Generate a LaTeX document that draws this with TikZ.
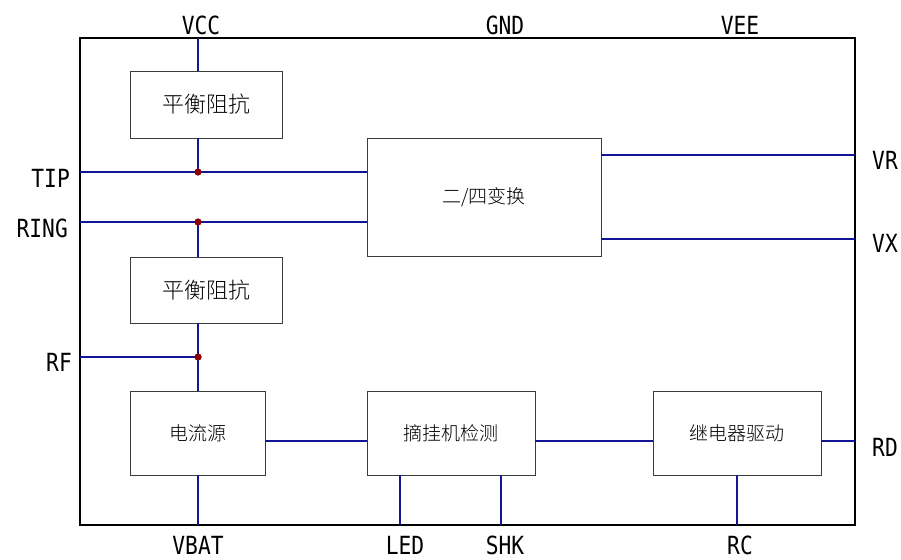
\documentclass[tikz,border=0pt]{standalone}
\usepackage{fontspec}
\newfontfamily\cjk{Noto Sans CJK SC Light}
\newfontfamily\lab[FakeStretch=0.85]{DejaVu Sans Mono}
\definecolor{wire}{RGB}{20,20,150}
\definecolor{dotc}{RGB}{140,0,0}
\definecolor{boxc}{RGB}{60,60,60}
\begin{document}
\begin{tikzpicture}[x=1pt,y=-1pt,
  blk/.style={draw=boxc,line width=0.8pt,fill=white,font=\cjk\fontsize{19}{19}\selectfont,inner sep=0pt},
  wireline/.style={draw=wire,line width=1.4pt},
  lbl/.style={font=\lab\fontsize{25}{25}\selectfont,inner sep=0pt},
  jdot/.style={circle,fill=dotc,inner sep=0pt,minimum size=7pt}]
\useasboundingbox (0,0) rectangle (901,559);
% frame corners
\coordinate (FTL) at (80,38);
\coordinate (FBR) at (855,525);
% blocks
\node[blk,minimum width=152pt,minimum height=67pt,font=\cjk\fontsize{22}{22}\selectfont] (bz1) at (206,104.5) {平衡阻抗};
\node[blk,minimum width=152pt,minimum height=66pt,font=\cjk\fontsize{22}{22}\selectfont] (bz2) at (206,290) {平衡阻抗};
\node[blk,minimum width=234pt,minimum height=118pt] (conv) at (484,197) {二/四变换};
\node[blk,minimum width=135pt,minimum height=84pt] (cs) at (197.5,433) {电流源};
\node[blk,minimum width=168pt,minimum height=84pt] (hook) at (451,433) {摘挂机检测};
\node[blk,minimum width=168pt,minimum height=84pt] (relay) at (737,433) {继电器驱动};
% frame
\draw[line width=2pt] (FTL) rectangle (FBR);
% junctions and pins
\coordinate (vccp) at (198,38);
\coordinate (tipL) at (80,172);
\coordinate (ringL) at (80,222);
\coordinate (rfL) at (80,357);
\coordinate (vrR) at (855,155);
\coordinate (vxR) at (855,239);
\coordinate (rdR) at (855,441);
\coordinate (vbatp) at (198,525);
\coordinate (ledp) at (400,525);
\coordinate (shkp) at (501,525);
\coordinate (rcp) at (737,525);
\node[jdot] (jt) at (198,172) {};
\node[jdot] (jr) at (198,222) {};
\node[jdot] (jf) at (198,357) {};
% wires
\draw[wireline] (vccp) -- (198,71);
\draw[wireline] (198,138) -- (jt.center);
\draw[wireline] (tipL) -- (jt.center) -- (tipL -| conv.west);
\draw[wireline] (ringL) -- (jr.center) -- (ringL -| conv.west);
\draw[wireline] (jr.center) -- (198,257);
\draw[wireline] (198,323) -- (jf.center) -- (198,391);
\draw[wireline] (rfL) -- (jf.center);
\draw[wireline] (vrR -| conv.east) -- (vrR);
\draw[wireline] (vxR -| conv.east) -- (vxR);
\draw[wireline] (198,475) -- (vbatp);
\draw[wireline] (cs.east |- 0,441) -- (hook.west |- 0,441);
\draw[wireline] (hook.east |- 0,441) -- (relay.west |- 0,441);
\draw[wireline] (relay.east |- 0,441) -- (rdR);
\draw[wireline] (400,475) -- (ledp);
\draw[wireline] (501,475) -- (shkp);
\draw[wireline] (737,475) -- (rcp);
% redraw jdots on top
\node[jdot] at (jt) {};
\node[jdot] at (jr) {};
\node[jdot] at (jf) {};
% labels
\node[lbl] (lvcc) at (201,25) {VCC};
\node[lbl] (lgnd) at (505,25) {GND};
\node[lbl] (lvee) at (740,25) {VEE};
\node[lbl,anchor=east] (ltip) at (70,178) {TIP};
\node[lbl,anchor=east] (lring) at (68,228) {RING};
\node[lbl,anchor=east] (lrf) at (72,362) {RF};
\node[lbl,anchor=west] (lvr) at (872,160) {VR};
\node[lbl,anchor=west] (lvx) at (872,243) {VX};
\node[lbl,anchor=west] (lrd) at (872,447) {RD};
\node[lbl] (lvbat) at (198,545) {VBAT};
\node[lbl] (lled) at (405,545) {LED};
\node[lbl] (lshk) at (505,545) {SHK};
\node[lbl] (lrc) at (740,545) {RC};
\end{tikzpicture}
\end{document}
